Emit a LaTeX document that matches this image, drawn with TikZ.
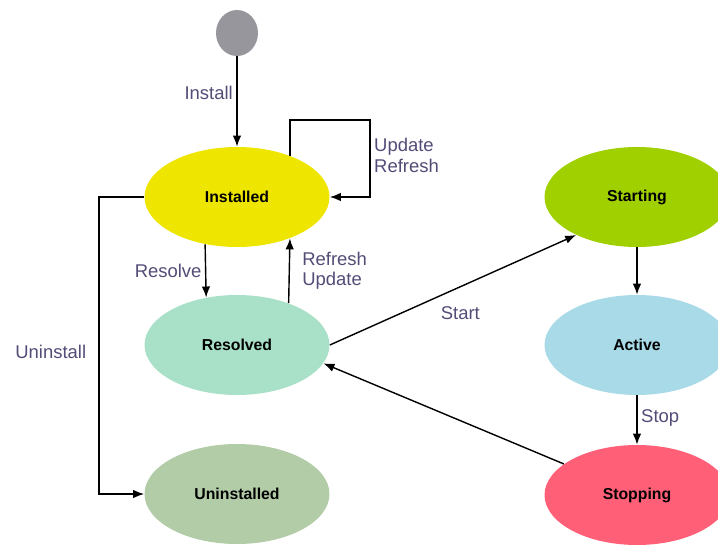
\documentclass[tikz,border=0pt]{standalone}
\usepackage{fontspec}
\setmainfont{Liberation Sans}
\usetikzlibrary{shapes.geometric,arrows.meta,positioning}
\definecolor{initgray}{RGB}{150,150,156}
\definecolor{instyellow}{RGB}{238,229,0}
\definecolor{resmint}{RGB}{168,224,200}
\definecolor{unisage}{RGB}{178,204,168}
\definecolor{stalime}{RGB}{160,208,0}
\definecolor{actblue}{RGB}{168,218,232}
\definecolor{stppink}{RGB}{255,96,120}
\definecolor{labelcol}{RGB}{82,76,118}
\tikzset{
  state/.style={ellipse,minimum width=3.7cm,minimum height=2cm,inner sep=0pt,
    font=\fontsize{9}{11}\selectfont\bfseries},
  lbl/.style={text=labelcol,font=\fontsize{10.5}{11.5}\selectfont,align=left,inner sep=2pt},
  conn/.style={draw=black,line width=0.8pt,-{Latex[length=2.2mm,width=1.7mm]}}
}
\begin{document}
\begin{tikzpicture}[x=0.02cm,y=-0.02cm]
        \useasboundingbox (0,0) rectangle (718,545);
        \begin{scope}[every node/.style={state}]
        \node[fill=initgray,minimum width=0.84cm,minimum height=0.92cm] (init) at (237,33) {};
        \node[fill=instyellow] (inst) at (237,197) {Installed};
        \node[fill=resmint] (res) at (237,345) {Resolved};
        \node[fill=unisage] (uni) at (237,494) {Uninstalled};
        \node[fill=stalime] (sta) at (637,197) {Starting};
        \node[fill=actblue] (act) at (637,345) {Active};
        \node[fill=stppink] (stp) at (637,495) {Stopping};
        \end{scope}
        \coordinate (loop) at (370,120);
        \begin{scope}[every edge/.style={conn}]
        \path (init) edge node[lbl,left,pos=0.4] {Install} (inst.north);
        \path (inst.-124) edge node[lbl,left] {Resolve} (res.123);
        \path (res.39) edge node[lbl,right=5pt] {Refresh\\Update} (inst.-38);
        \path (res.east) edge node[lbl,below=9pt,pos=0.53] {Start} (sta.-148);
        \path (sta.south) edge (act.north);
        \path (act.south) edge node[lbl,right,pos=0.45] {Stop} (stp.north);
        \path (stp.157) edge (res.-12);
        \end{scope}
        \draw[conn] (inst.38) |- (loop) |- node[lbl,right,pos=0.23] {Update\\Refresh} (inst.east);
        \draw[conn] (inst.west) -- ++(-45,0) |- node[lbl,left=5pt,pos=0.26] {Uninstall} (uni.west);
        \end{tikzpicture}
\end{document}
